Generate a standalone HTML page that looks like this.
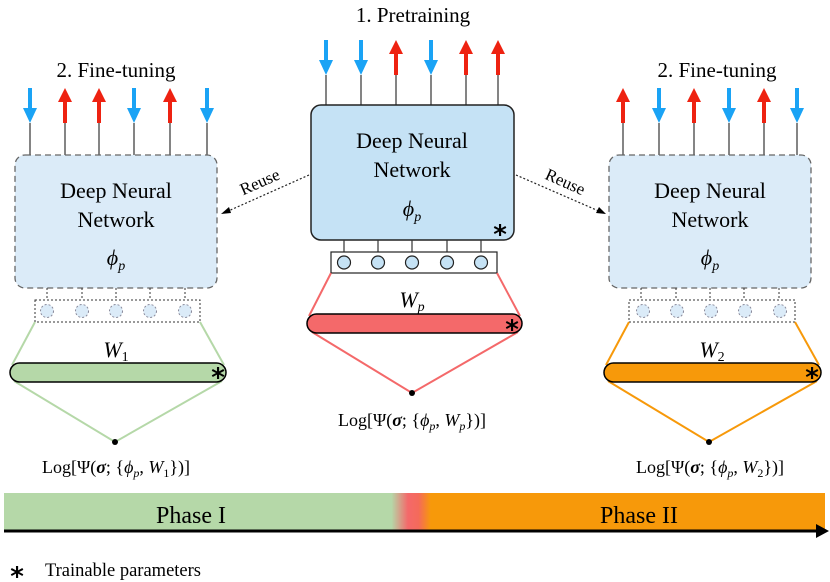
<!DOCTYPE html>
<html><head><meta charset="utf-8"><style>
html,body{margin:0;padding:0;background:#fff}
svg{display:block;font-family:"Liberation Serif","DejaVu Serif","Times New Roman",serif}
text{font-family:"Liberation Serif","DejaVu Serif","Times New Roman",serif;fill:#000}
text.st{font-family:"DejaVu Sans",sans-serif;font-weight:bold}
.it{font-style:italic}
</style></head><body>
<svg width="830" height="582" viewBox="0 0 830 582" xmlns="http://www.w3.org/2000/svg">
<defs>
<g id="dn"><rect x="-2" y="0" width="4" height="22" fill="#1aa3f5"/><polygon points="-7,20 7,20 0,35" fill="#1aa3f5"/></g>
<g id="up"><polygon points="-7,14 7,14 0,0" fill="#ee2211"/><rect x="-2" y="13" width="4" height="22" fill="#ee2211"/></g>
<linearGradient id="ph" x1="0" x2="1">
<stop offset="0" stop-color="#b5d8a8"/><stop offset="0.472" stop-color="#b5d8a8"/><stop offset="0.492" stop-color="#f4696a"/><stop offset="0.505" stop-color="#f46a5a"/><stop offset="0.52" stop-color="#f7990a"/><stop offset="1" stop-color="#f7990a"/>
</linearGradient>
</defs>

<text x="413" y="22" font-size="21" text-anchor="middle">1. Pretraining</text>
<text x="116" y="77" font-size="21" text-anchor="middle">2. Fine-tuning</text>
<text x="717" y="77" font-size="21" text-anchor="middle">2. Fine-tuning</text>

<!-- LEFT -->
<use href="#dn" x="30" y="88"/><use href="#up" x="65" y="88"/><use href="#up" x="99" y="88"/><use href="#dn" x="134" y="88"/><use href="#up" x="170" y="88"/><use href="#dn" x="207" y="88"/>
<g stroke="#333" stroke-width="1.2"><line x1="30" y1="123" x2="30" y2="155"/><line x1="65" y1="123" x2="65" y2="155"/><line x1="99" y1="123" x2="99" y2="155"/><line x1="134" y1="123" x2="134" y2="155"/><line x1="170" y1="123" x2="170" y2="155"/><line x1="207" y1="123" x2="207" y2="155"/></g>
<rect x="15" y="155" width="202" height="133" rx="10" fill="#dbebf8" stroke="#666" stroke-width="1.3" stroke-dasharray="6,4"/>
<text x="116" y="198" font-size="22" text-anchor="middle">Deep Neural</text>
<text x="116" y="227" font-size="22" text-anchor="middle">Network</text>
<text x="116" y="265" font-size="22" text-anchor="middle" class="it">ϕ<tspan font-size="14" dy="5">p</tspan></text>
<g stroke="#333" stroke-width="1" stroke-dasharray="2,2" fill="none"><line x1="47" y1="288" x2="47" y2="300"/><line x1="82" y1="288" x2="82" y2="300"/><line x1="116" y1="288" x2="116" y2="300"/><line x1="150" y1="288" x2="150" y2="300"/><line x1="185" y1="288" x2="185" y2="300"/>
<rect x="35" y="300" width="165" height="22"/></g>
<g fill="#dbebf8" stroke="#889" stroke-width="1" stroke-dasharray="2,2"><circle cx="47" cy="311" r="6.5"/><circle cx="82" cy="311" r="6.5"/><circle cx="116" cy="311" r="6.5"/><circle cx="150" cy="311" r="6.5"/><circle cx="185" cy="311" r="6.5"/></g>
<g stroke="#b5d8a8" stroke-width="2" fill="none"><line x1="35" y1="322" x2="12" y2="365"/><line x1="200" y1="322" x2="224" y2="365"/><polyline points="14,381 115,442 222,381"/></g>
<text x="116" y="357" font-size="22" text-anchor="middle" class="it">W<tspan font-size="14" dy="4" font-style="normal">1</tspan></text>
<rect x="10" y="363" width="216" height="19" rx="9.5" fill="#b5d8a8" stroke="#000" stroke-width="1.5"/>
<text x="218" y="386" font-size="26" text-anchor="middle" class="st">*</text>
<circle cx="115" cy="442" r="3" fill="#000"/>
<text x="116" y="473" font-size="18" text-anchor="middle">Log[Ψ(<tspan font-weight="bold" class="it">σ</tspan>; {<tspan class="it">ϕ</tspan><tspan font-size="12" dy="4" class="it">p</tspan><tspan dy="-4">, </tspan><tspan class="it">W</tspan><tspan font-size="12" dy="4">1</tspan><tspan dy="-4">})]</tspan></text>

<!-- CENTER -->
<use href="#dn" x="326" y="40"/><use href="#dn" x="361" y="40"/><use href="#up" x="396" y="40"/><use href="#dn" x="431" y="40"/><use href="#up" x="466" y="40"/><use href="#up" x="498" y="40"/>
<g stroke="#333" stroke-width="1.2"><line x1="326" y1="75" x2="326" y2="105"/><line x1="361" y1="75" x2="361" y2="105"/><line x1="396" y1="75" x2="396" y2="105"/><line x1="431" y1="75" x2="431" y2="105"/><line x1="466" y1="75" x2="466" y2="105"/><line x1="498" y1="75" x2="498" y2="105"/></g>
<rect x="311" y="105" width="203" height="135" rx="10" fill="#c5e2f5" stroke="#222" stroke-width="1.5"/>
<text x="412" y="148" font-size="22" text-anchor="middle">Deep Neural</text>
<text x="412" y="177" font-size="22" text-anchor="middle">Network</text>
<text x="412" y="216" font-size="22" text-anchor="middle" class="it">ϕ<tspan font-size="14" dy="5">p</tspan></text>
<text x="500" y="243" font-size="26" text-anchor="middle" class="st">*</text>
<g stroke="#333" stroke-width="1.2"><line x1="344" y1="240" x2="344" y2="252"/><line x1="378" y1="240" x2="378" y2="252"/><line x1="412" y1="240" x2="412" y2="252"/><line x1="447" y1="240" x2="447" y2="252"/><line x1="481" y1="240" x2="481" y2="252"/></g>
<rect x="331" y="252" width="166" height="21" fill="#fff" stroke="#222" stroke-width="1.2"/>
<g fill="#c5e2f5" stroke="#222" stroke-width="1.2"><circle cx="344" cy="262.5" r="6.5"/><circle cx="378" cy="262.5" r="6.5"/><circle cx="412" cy="262.5" r="6.5"/><circle cx="447" cy="262.5" r="6.5"/><circle cx="481" cy="262.5" r="6.5"/></g>
<g stroke="#f4696a" stroke-width="2" fill="none"><line x1="331" y1="273" x2="309" y2="316"/><line x1="497" y1="273" x2="520" y2="316"/><polyline points="312,332 412,393 518,332"/></g>
<text x="412" y="307" font-size="22" text-anchor="middle" class="it">W<tspan font-size="14" dy="4">p</tspan></text>
<rect x="307" y="314" width="215" height="19" rx="9.5" fill="#f4696a" stroke="#000" stroke-width="1.5"/>
<text x="512" y="338" font-size="26" text-anchor="middle" class="st">*</text>
<circle cx="412" cy="393" r="3" fill="#000"/>
<text x="412" y="426" font-size="18" text-anchor="middle">Log[Ψ(<tspan font-weight="bold" class="it">σ</tspan>; {<tspan class="it">ϕ</tspan><tspan font-size="12" dy="4" class="it">p</tspan><tspan dy="-4">, </tspan><tspan class="it">W</tspan><tspan font-size="12" dy="4" class="it">p</tspan><tspan dy="-4">})]</tspan></text>

<!-- Reuse -->
<g stroke="#222" stroke-width="1.2" stroke-dasharray="2,2" fill="none"><line x1="309" y1="175" x2="226" y2="212"/><line x1="516" y1="175" x2="601" y2="212"/></g>
<polygon points="221,214 229,207 231,213" fill="#000"/>
<polygon points="606,214 596,213 599,207" fill="#000"/>
<text x="262" y="187" font-size="17" text-anchor="middle" transform="rotate(-24 262 187)">Reuse</text>
<text x="563" y="187" font-size="17" text-anchor="middle" transform="rotate(24 563 187)">Reuse</text>

<!-- RIGHT -->
<use href="#up" x="623" y="88"/><use href="#dn" x="659" y="88"/><use href="#up" x="694" y="88"/><use href="#dn" x="729" y="88"/><use href="#up" x="764" y="88"/><use href="#dn" x="797" y="88"/>
<g stroke="#333" stroke-width="1.2"><line x1="623" y1="123" x2="623" y2="155"/><line x1="659" y1="123" x2="659" y2="155"/><line x1="694" y1="123" x2="694" y2="155"/><line x1="729" y1="123" x2="729" y2="155"/><line x1="764" y1="123" x2="764" y2="155"/><line x1="797" y1="123" x2="797" y2="155"/></g>
<rect x="609" y="155" width="202" height="133" rx="10" fill="#dbebf8" stroke="#666" stroke-width="1.3" stroke-dasharray="6,4"/>
<text x="710" y="198" font-size="22" text-anchor="middle">Deep Neural</text>
<text x="710" y="227" font-size="22" text-anchor="middle">Network</text>
<text x="710" y="265" font-size="22" text-anchor="middle" class="it">ϕ<tspan font-size="14" dy="5">p</tspan></text>
<g stroke="#333" stroke-width="1" stroke-dasharray="2,2" fill="none"><line x1="641" y1="288" x2="641" y2="300"/><line x1="676" y1="288" x2="676" y2="300"/><line x1="710" y1="288" x2="710" y2="300"/><line x1="744" y1="288" x2="744" y2="300"/><line x1="779" y1="288" x2="779" y2="300"/>
<rect x="629" y="300" width="166" height="22"/></g>
<g fill="#dbebf8" stroke="#889" stroke-width="1" stroke-dasharray="2,2"><circle cx="643" cy="311" r="6.5"/><circle cx="677" cy="311" r="6.5"/><circle cx="711" cy="311" r="6.5"/><circle cx="745" cy="311" r="6.5"/><circle cx="780" cy="311" r="6.5"/></g>
<g stroke="#f7990a" stroke-width="2" fill="none"><line x1="629" y1="322" x2="606" y2="365"/><line x1="795" y1="322" x2="819" y2="365"/><polyline points="608,381 709,442 817,381"/></g>
<text x="712" y="357" font-size="22" text-anchor="middle" class="it">W<tspan font-size="14" dy="4" font-style="normal">2</tspan></text>
<rect x="604" y="363" width="217" height="19" rx="9.5" fill="#f7990a" stroke="#000" stroke-width="1.5"/>
<text x="812" y="386" font-size="26" text-anchor="middle" class="st">*</text>
<circle cx="709" cy="442" r="3" fill="#000"/>
<text x="710" y="473" font-size="18" text-anchor="middle">Log[Ψ(<tspan font-weight="bold" class="it">σ</tspan>; {<tspan class="it">ϕ</tspan><tspan font-size="12" dy="4" class="it">p</tspan><tspan dy="-4">, </tspan><tspan class="it">W</tspan><tspan font-size="12" dy="4">2</tspan><tspan dy="-4">})]</tspan></text>

<!-- Phase bar -->
<rect x="4" y="493" width="821" height="39" fill="url(#ph)"/>
<line x1="4" y1="531" x2="818" y2="531" stroke="#000" stroke-width="3"/>
<polygon points="816,524 829,531 816,538" fill="#000"/>
<text x="191" y="523" font-size="24" text-anchor="middle">Phase I</text>
<text x="639" y="523" font-size="24" text-anchor="middle">Phase II</text>

<text x="17" y="585" font-size="26" text-anchor="middle" class="st">*</text>
<text x="45" y="576" font-size="18.5">Trainable parameters</text>
</svg>
</body></html>
